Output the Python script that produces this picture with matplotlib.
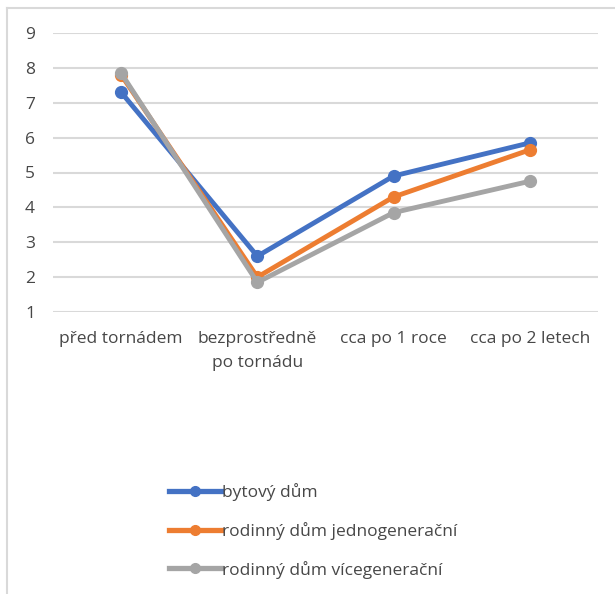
import matplotlib
matplotlib.use("Agg")
import matplotlib.pyplot as plt
from matplotlib.lines import Line2D

categories = ["před tornádem", "bezprostředně\npo tornádu", "cca po 1 roce", "cca po 2 letech"]
series_names = ["bytový dům", "rodinný dům jednogenerační", "rodinný dům vícegenerační"]
bytovy = [7.3, 2.6, 4.9, 5.85]
jednogen = [7.8, 2.0, 4.3, 5.65]
vicegen = [7.85, 1.85, 3.85, 4.75]
colors = ["#4472C4", "#ED7D31", "#A5A5A5"]
yticks = [1, 2, 3, 4, 5, 6, 7, 8, 9]

plt.rcParams['font.family'] = ['Open Sans', 'DejaVu Sans']
text_color = "#474747"
fs = 12.5

fig = plt.figure(figsize=(6.15, 5.94), dpi=100)
ax = fig.add_axes([53/615, 1-312/594, (598-53)/615, (312-33)/594])

x = list(range(len(categories)))
for vals, name, c in zip([bytovy, jednogen, vicegen], series_names, colors):
    ax.plot(x, vals, color=c, lw=3.5, marker='o', ms=8.5, label=name, solid_capstyle='round')

ax.set_xlim(-0.5, len(categories) - 0.5)
ax.set_ylim(1, 9)
ax.set_yticks(yticks)
ax.set_xticks(x)
ax.set_xticklabels(categories, fontsize=fs, color=text_color, linespacing=1.65)
ax.tick_params(axis='y', length=0, pad=13, labelsize=fs, labelcolor=text_color)
ax.tick_params(axis='x', length=0, pad=14)
ax.yaxis.grid(True, color="#D9D9D9", lw=1.5)
ax.set_axisbelow(True)
for s in ax.spines.values():
    s.set_visible(False)

handles = [Line2D([0], [0], color=c, lw=3.8, marker='o', ms=7) for c in colors]
fig.legend(handles, series_names, loc='upper left', bbox_to_anchor=(162/615, 1-476/594),
           frameon=False, fontsize=fs, handlelength=3.0, handletextpad=0.05,
           labelspacing=1.2, labelcolor=text_color, borderaxespad=0)

# outer frame (left and top)
fig.add_artist(Line2D([7/615, 7/615], [0, 1-8/594], transform=fig.transFigure, color="#D9D9D9", lw=1.5))
fig.add_artist(Line2D([7/615, 1], [1-8/594, 1-8/594], transform=fig.transFigure, color="#D9D9D9", lw=1.5))

fig.savefig("out.png", dpi=100)
